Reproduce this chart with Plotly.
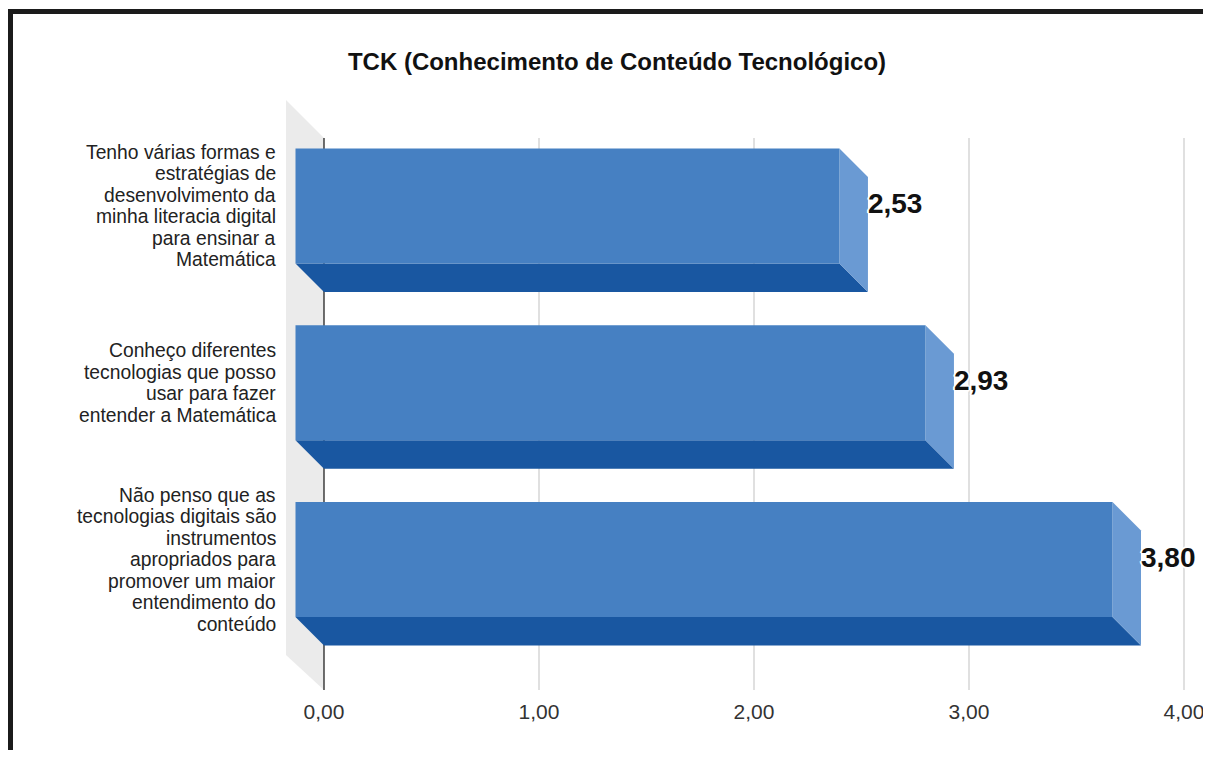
import plotly.graph_objects as go

# ---------------- data ----------------
title_text = "TCK (Conhecimento de Conteúdo Tecnológico)"
categories = [
    "Tenho várias formas e<br>estratégias de<br>desenvolvimento da<br>minha literacia digital<br>para ensinar a<br>Matemática",
    "Conheço diferentes<br>tecnologias que posso<br>usar para fazer<br>entender a Matemática",
    "Não penso que as<br>tecnologias digitais são<br>instrumentos<br>apropriados para<br>promover um maior<br>entendimento do<br>conteúdo",
]
values = [2.53, 2.93, 3.80]
value_labels = ["2,53", "2,93", "3,80"]
x_tickvals = [0, 1, 2, 3, 4]
x_ticktext = ["0,00", "1,00", "2,00", "3,00", "4,00"]

# ---------------- style / geometry (reference pixels) ----------------
OFF = 8                                        # page body margin of the browser
W, H = 1211 - 2 * OFF, 758 - 2 * OFF           # figure size (fits inside the window)
PL, PR, PT, PB = 286, 1195, 100, 690           # plot area (page pixels)
ZERO_PX = 324
PX_PER_X = 215.0
FIRST_CENTER_PX = 234.5
PX_PER_SLOT = 176.75
DEPTH_PX = 28.5
BAR_HALF_PX = 57.5
WALL_TOP_PX = 138
WALL_BOTTOM_LEFT_PX = 655
LABEL_RIGHT_PX = 277
LABEL_LINE_PX = 21.5
LABEL_FONT = 19.3

FONT = "Liberation Sans, Arial, sans-serif"
FRONT = "#4680c2"
BOTTOM = "#1957a1"
SIDE = "#6a9ad3"
WALL = "#ebebeb"
GRID = "#cccccc"

x_min = (PL - ZERO_PX) / PX_PER_X
x_max = (PR - ZERO_PX) / PX_PER_X
y_top = (PT - FIRST_CENTER_PX) / PX_PER_SLOT
y_bot = (PB - FIRST_CENTER_PX) / PX_PER_SLOT
y_grid_top = (WALL_TOP_PX - FIRST_CENTER_PX) / PX_PER_SLOT
y_wall_bl = (WALL_BOTTOM_LEFT_PX - FIRST_CENTER_PX) / PX_PER_SLOT
dx = DEPTH_PX / PX_PER_X
dy = DEPTH_PX / PX_PER_SLOT
hh = BAR_HALF_PX / PX_PER_SLOT


def px_x(p):
    return (p - PL) / (PR - PL)


def px_y(p):
    return (PB - p) / (PB - PT)


fig = go.Figure()


def poly(xs, ys, color):
    fig.add_trace(go.Scatter(
        x=xs + [xs[0]], y=ys + [ys[0]], mode="lines", fill="toself",
        fillcolor=color, line=dict(width=0, color=color),
        hoverinfo="skip", showlegend=False))


# back wall
poly([x_min, 0, 0, x_min], [y_top, y_grid_top, y_bot, y_wall_bl], WALL)

# grid lines
for t in x_tickvals[1:]:
    fig.add_trace(go.Scatter(x=[t, t], y=[y_grid_top, y_bot], mode="lines",
                             line=dict(color=GRID, width=1.2),
                             hoverinfo="skip", showlegend=False))
fig.add_trace(go.Scatter(x=[0, 0], y=[y_grid_top, y_bot], mode="lines",
                         line=dict(color="#222222", width=1.3),
                         hoverinfo="skip", showlegend=False))

# bars
front_centers = []
for i, v in enumerate(values):
    c = i
    poly([-dx, v - dx, v, 0], [c + hh - dy, c + hh - dy, c + hh, c + hh], BOTTOM)
    poly([v - dx, v, v, v - dx], [c - hh - dy, c - hh, c + hh, c + hh - dy], SIDE)
    poly([-dx, v - dx, v - dx, -dx], [c - hh - dy, c - hh - dy, c + hh - dy, c + hh - dy], FRONT)
    front_centers.append(c - dy)

# value labels
halo = ("2px 0 0 #fff, -2px 0 0 #fff, 0 2px 0 #fff, 0 -2px 0 #fff, "
        "1px 1px 0 #fff, -1px -1px 0 #fff, 1px -1px 0 #fff, -1px 1px 0 #fff")
fig.add_trace(go.Scatter(
    x=values, y=front_centers, mode="text", text=value_labels,
    textposition="middle right",
    textfont=dict(family=FONT, size=28, color="#111111", weight="bold", shadow=halo),
    cliponaxis=False, hoverinfo="skip", showlegend=False))

# category labels, one annotation per line for tight line spacing
annotations = []
for yc, label in zip(front_centers, categories):
    lines = label.split("<br>")
    n = len(lines)
    for k, line in enumerate(lines):
        yy = yc + (k - (n - 1) / 2) * LABEL_LINE_PX / PX_PER_SLOT
        annotations.append(dict(
            text=line, xref="paper", x=px_x(LABEL_RIGHT_PX), xanchor="right",
            yref="y", y=yy, yanchor="middle", showarrow=False, borderpad=0,
            font=dict(family=FONT, size=LABEL_FONT, color="#222222")))

fig.update_layout(
    width=W, height=H,
    margin=dict(l=PL - OFF, r=W - (PR - OFF), t=PT - OFF, b=H - (PB - OFF), pad=0,
                autoexpand=False),
    paper_bgcolor="white", plot_bgcolor="white",
    font=dict(family=FONT, color="#222222"),
    title=dict(text="<b>" + title_text + "</b>", x=(617 - OFF) / W, xanchor="center",
               y=1 - (62 - OFF) / H, yanchor="middle",
               font=dict(size=24, color="#111111")),
    xaxis=dict(range=[x_min, x_max], tickvals=x_tickvals, ticktext=x_ticktext,
               showgrid=False, zeroline=False, showline=False, ticks="",
               ticklabelstandoff=7, ticklabeloverflow="allow", automargin=False,
               tickfont=dict(size=21, color="#333333"), fixedrange=True),
    yaxis=dict(range=[y_bot, y_top], showgrid=False, zeroline=False, showline=False,
               showticklabels=False, ticks="", automargin=False, fixedrange=True),
    annotations=annotations,
)

# black frame (top and left edges of the picture)
fig.add_shape(type="line", xref="paper", yref="paper",
              x0=px_x(8), x1=px_x(1211 + 5), y0=px_y(11.5), y1=px_y(11.5),
              line=dict(color="#1b1b1b", width=5))
fig.add_shape(type="line", xref="paper", yref="paper",
              x0=px_x(10.5), x1=px_x(10.5), y0=px_y(9), y1=px_y(758 + 5),
              line=dict(color="#1b1b1b", width=5))

fig.write_html("out.html")
